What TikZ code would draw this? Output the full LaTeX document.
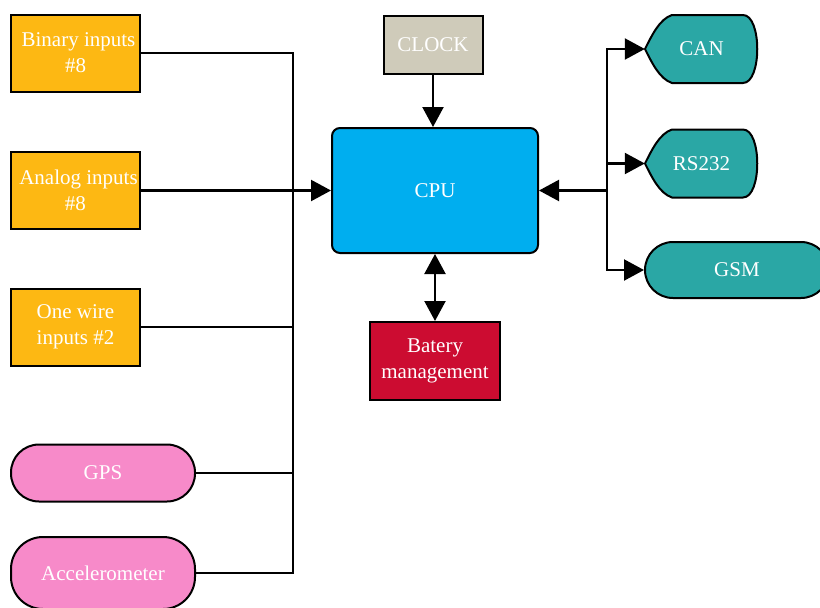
\documentclass[tikz,border=0pt]{standalone}
\usepackage{fontspec}
\setmainfont{Liberation Serif}
\usetikzlibrary{arrows.meta,calc}
\definecolor{orangebox}{HTML}{FDB813}
\definecolor{cpublue}{HTML}{00AEEF}
\definecolor{clockgray}{HTML}{CFCBBA}
\definecolor{batred}{HTML}{CC0C31}
\definecolor{pinkbox}{HTML}{F78AC9}
\definecolor{tealbox}{HTML}{2AA7A5}
\newcommand\dispat[1]{%
  \path[dispfill] ($(#1)+(-56.5,0)$) .. controls ($(#1)+(-50,-13)$) and ($(#1)+(-42,-30)$) .. ($(#1)+(-29.5,-34)$)
   -- ($(#1)+(41.5,-34)$) .. controls ($(#1)+(60.5,-34)$) and ($(#1)+(60.5,34)$) .. ($(#1)+(41.5,34)$)
   -- ($(#1)+(-29.5,34)$) .. controls ($(#1)+(-42,30)$) and ($(#1)+(-50,13)$) .. ($(#1)+(-56.5,0)$) -- cycle;}
\begin{document}
\begin{tikzpicture}[x=1pt,y=-1pt,
  font=\fontsize{21}{26}\selectfont,
  box/.style={draw=black, line width=2pt, text=white, align=center, inner sep=0pt},
  inbox/.style={box, fill=orangebox, minimum width=129pt, minimum height=77pt},
  pill/.style={box, fill=pinkbox, rounded corners=28pt, minimum width=184pt, minimum height=57pt},
  dispfill/.style={draw=black, line width=2pt, fill=tealbox, line join=round},
  disptext/.style={inner sep=0pt, text=white, minimum width=113pt, minimum height=68pt},
  conn/.style={line width=2.2pt},
  arr/.style={conn, -{Triangle[length=20pt,width=21pt]}},
  darr/.style={conn, {Triangle[length=20pt,width=21pt]}-{Triangle[length=20pt,width=21pt]}}]
\fill[white] (0,0) rectangle (820,608);
\useasboundingbox (0,0) rectangle (820,608);

% left inputs
\node[inbox] (bin) at (75.5,53) {\hspace*{6pt}Binary inputs\\\#8};
\node[inbox] (ana) at (75.5,190.5) {\hspace*{6pt}Analog inputs\\\#8};
\node[inbox] (one) at (75.5,327) {One wire\\inputs \#2};
\node[pill] (gps) at (103,473) {GPS};
\node[pill, minimum height=72pt, rounded corners=32pt] (acc) at (103,573) {Accelerometer};

% centre
\node[box, fill=clockgray, minimum width=99pt, minimum height=58pt] (clock) at (433,45) {CLOCK};
\node[box, fill=cpublue, rounded corners=8pt, minimum width=206pt, minimum height=125pt] (cpu) at (435,190.5) {CPU};
\node[box, fill=batred, minimum width=130pt, minimum height=78pt] (bat) at (435,361) {Batery\\management};

% right outputs
\coordinate (canc) at (701.5,49);
\coordinate (rsc) at (701.5,163.5);
\dispat{canc}
\dispat{rsc}
\node[disptext] (can) at (canc) {CAN};
\node[disptext, minimum height=67pt] (rs) at (rsc) {RS232};
\node[box, fill=tealbox, rounded corners=28pt, minimum width=184pt, minimum height=56pt] (gsm) at (737,270) {GSM};

% connectors left
\coordinate (lb) at (293,573);
\draw[conn] (bin.east) -| (lb) -- (acc.east);
\draw[conn] (one.east) -- (one.east -| lb);
\draw[conn] (gps.east) -- (gps.east -| lb);
\draw[arr] (ana.east) -- (cpu.west);

% connectors centre
\draw[arr] (clock.south) -- (clock.south |- cpu.north);
\draw[darr] (cpu.south) -- (bat.north);

% connectors right
\coordinate (rb) at (607,190.5);
\draw[arr] (rb) -- (cpu.east);
\draw[arr] (rb) |- (can.west);
\draw[arr] (rb) |- (rs.west);
\draw[arr] (rb) |- (gsm.west);
\end{tikzpicture}
\end{document}
